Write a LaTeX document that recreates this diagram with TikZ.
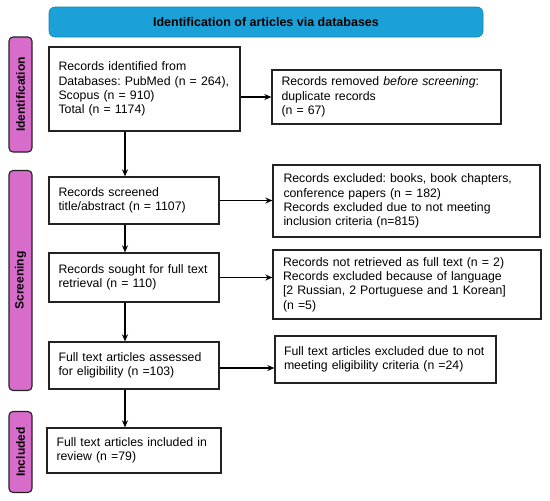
\documentclass[tikz,border=0pt]{standalone}
\usepackage{fontspec}
\setmainfont{Liberation Sans}
\usetikzlibrary{arrows.meta}
\frenchspacing
\definecolor{bannerblue}{HTML}{1BA1D8}
\definecolor{phasepink}{HTML}{D86CCB}
\definecolor{edge}{HTML}{222222}
\begin{document}
\begin{tikzpicture}[x=1pt,y=-1pt,
  txt/.style={font=\fontsize{12.3}{14.3}\selectfont},
  box/.style={txt,draw=edge,line width=1.3pt,fill=white,rectangle,inner xsep=9pt,inner ysep=0pt,align=left,anchor=center},
  phase/.style={draw=edge,line width=1.1pt,fill=phasepink,rounded corners=4pt,inner sep=0pt,anchor=center,
    font=\fontsize{12}{14}\selectfont\bfseries},
  arr/.style={line width=1.3pt,-{Stealth[length=7pt,width=6pt]}}]
\useasboundingbox (0,0) rectangle (550,501);
% banner
\node[draw=bannerblue!80!black,line width=0.6pt,fill=bannerblue,rounded corners=6pt,minimum width=434pt,minimum height=30pt,
  font=\fontsize{12.5}{14}\selectfont\bfseries,anchor=center] (ban) at (266,22) {Identification of articles via databases};
% phase labels
\node[phase,minimum width=115pt,minimum height=23pt,rotate=90] (pid) at (20.5,94.5) {Identification};
\node[phase,minimum width=220pt,minimum height=23pt,rotate=90] (psc) at (20.5,280.5) {Screening};
\node[phase,minimum width=81pt,minimum height=23pt,rotate=90] (pin) at (20.5,452) {Included};
% boxes
\node[box,minimum width=191pt,minimum height=84pt,text width=172pt] (b1) at (144.5,89)
  {Records identified from\\Databases: PubMed (n = 264),\\Scopus (n = 910)\\Total (n = 1174)};
\node[box,minimum width=229pt,minimum height=54pt,text width=210pt] (b2) at (386.5,97)
  {Records removed \emph{before screening}:\\duplicate records\\(n = 67)};
\node[box,minimum width=170pt,minimum height=47pt,text width=151pt] (b3) at (134,200.5)
  {Records screened\\title/abstract (n = 1107)};
\node[box,minimum width=267pt,minimum height=72pt,text width=246pt,inner xsep=10.5pt] (b4) at (406.5,201)
  {Records excluded: books, book chapters,\\conference papers (n = 182)\\Records excluded due to not meeting\\inclusion criteria (n=815)};
\node[box,minimum width=170pt,minimum height=49pt,text width=151pt] (b5) at (134,277.5)
  {Records sought for full text\\retrieval (n = 110)};
\node[box,minimum width=268pt,minimum height=69pt,text width=248pt,inner xsep=10pt] (b6) at (407,284.5)
  {Records not retrieved as full text (n = 2)\\Records excluded because of language\\{[2} Russian, 2 Portuguese and 1 Korean]\\(n =5)};
\node[box,minimum width=170pt,minimum height=47pt,text width=151pt] (b7) at (134,365.5)
  {Full text articles assessed\\for eligibility (n =103)};
\node[box,minimum width=221pt,minimum height=47pt,text width=203pt] (b8) at (385.5,359.5)
  {Full text articles excluded due to not\\meeting eligibility criteria (n =24)};
\node[box,minimum width=174pt,minimum height=45pt,text width=155pt] (b9) at (134,450.5)
  {Full text articles included in\\review (n =79)};
% connectors
\coordinate (vx) at (125,0);
\draw[arr] (b1.south -| vx) -- (b3.north -| vx);
\draw[arr] (b3.south -| vx) -- (b5.north -| vx);
\draw[arr] (b5.south -| vx) -- (b7.north -| vx);
\draw[arr] (b7.south -| vx) -- (b9.north -| vx);
\draw[arr] (b1.east |- b2.west) -- (b2.west);
\draw[arr] (b3.east) -- (b3.east -| b4.west);
\draw[arr] (b5.east) -- (b5.east -| b6.west);
\draw[arr] ([yshift=-2.5pt]b7.east) -- ([yshift=-2.5pt]b7.east -| b8.west);
\end{tikzpicture}
\end{document}
